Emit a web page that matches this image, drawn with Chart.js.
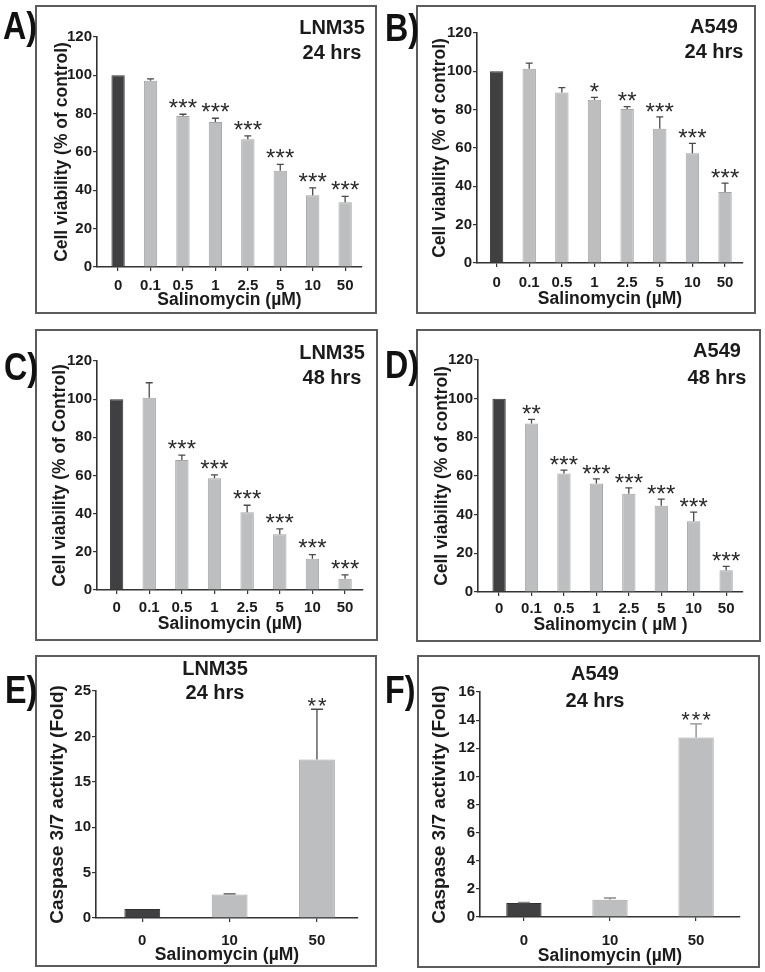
<!DOCTYPE html>
<html><head><meta charset="utf-8">
<script src="https://cdn.jsdelivr.net/npm/chart.js@4/dist/chart.umd.min.js"></script>
<style>
html,body{margin:0;padding:0;background:#fff;}
body{width:765px;height:972px;position:relative;overflow:hidden;font-family:"Liberation Sans",Arial,sans-serif;color:#1b1b1b;}
.box{position:absolute;border:2px solid #5c5c5c;box-sizing:border-box;background:#fff;}
.box canvas{position:absolute;left:0;top:0;}
.letter{position:absolute;font-weight:bold;font-size:38px;line-height:38px;color:#111;transform-origin:left top;transform:scaleX(0.85);white-space:nowrap;}
.ttl{position:absolute;font-weight:bold;font-size:20px;line-height:20px;color:#1b1b1b;transform:translateX(-50%);white-space:nowrap;}
</style></head><body>
<script>
// ---------------- data ----------------
const doseLabels = ['0', '0.1', '0.5', '1', '2.5', '5', '10', '50'];
const caspLabels = ['0', '10', '50'];

const lnm35_24h     = [100, 97.2, 78.8, 75.7, 66.6, 50.2, 37.5, 33.8];
const lnm35_24h_err = [0, 1.0, 0.9, 1.9, 1.8, 3.3, 3.8, 3.0];
const lnm35_24h_sig = ['', '', '***', '***', '***', '***', '***', '***'];

const a549_24h      = [100, 101.4, 88.9, 85.2, 80.3, 70.1, 57.2, 37.0];
const a549_24h_err  = [0, 2.9, 2.6, 1.2, 1.3, 6.1, 5.2, 4.7];
const a549_24h_sig  = ['', '', '', '*', '**', '***', '***', '***'];

const lnm35_48h     = [100, 100.8, 68.1, 58.5, 40.7, 29.2, 16.4, 5.9];
const lnm35_48h_err = [0, 7.8, 2.6, 1.8, 3.7, 2.8, 2.1, 2.0];
const lnm35_48h_sig = ['', '', '***', '***', '***', '***', '***', '***'];

const a549_48h      = [100, 87.2, 61.3, 56.1, 50.8, 44.6, 36.6, 11.2];
const a549_48h_err  = [0, 2.1, 1.7, 2.4, 3.1, 3.4, 4.7, 2.1];
const a549_48h_sig  = ['', '**', '***', '***', '***', '***', '***', '***'];

const casp_lnm35     = [1.0, 2.6, 17.46];
const casp_lnm35_err = [0, 0.05, 5.53];
const casp_lnm35_sig = ['', '', '**'];

const casp_a549      = [1.0, 1.23, 12.77];
const casp_a549_err  = [0.03, 0.12, 0.97];
const casp_a549_sig  = ['', '', '***'];

const viabTicks = {max: 120, step: 20};
const caspTicksE = {max: 25, step: 5};
const caspTicksF = {max: 16, step: 2};

// ---------------- layout / style ----------------
Chart.defaults.font.family = '"Liberation Sans", Arial, sans-serif';
Chart.defaults.color = '#1b1b1b';
const DARK = '#404042', LIGHT = '#bdbec0';
const DARK_B = '#303032', LIGHT_B = '#a4a5a7';
const AXIS = '#333333';
const XT_SIZE = 17.5;

const panels = [
  {letter:'A)', lx:3,   lb:39,  t1:'LNM35', t2:'24 hrs', tcx:332, ty1:27,  ty2:52,
   box:[35,5,377,314],  area:[97,37,362,267],  xr:[-0.65,7.52], yTitleX:62,  xTitleY:300, digitTop:280,
   labels:doseLabels, vals:lnm35_24h, errs:lnm35_24h_err, sig:lnm35_24h_sig, yt:viabTicks,
   yTitle:'Cell viability (% of control)', xTitle:'Salinomycin (µM)', ySize:17.5, cap:3.5, gap:12, star:24, sp:9.5, ecol:'#4a4a4a'},
  {letter:'B)', lx:385, lb:41,  t1:'A549', t2:'24 hrs', tcx:714, ty1:26,  ty2:51,
   box:[416,5,756,314], area:[477,33,743,263], xr:[-0.6,7.55], yTitleX:440, xTitleY:299, digitTop:277,
   labels:doseLabels, vals:a549_24h, errs:a549_24h_err, sig:a549_24h_sig, yt:viabTicks,
   yTitle:'Cell viability (% of control)', xTitle:'Salinomycin (µM)', ySize:17.5, cap:3.5, gap:11, star:24, sp:9.5, ecol:'#4a4a4a'},
  {letter:'C)', lx:4,   lb:380, t1:'LNM35', t2:'48 hrs', tcx:332, ty1:352, ty2:377,
   box:[35,329,378,641], area:[97,361,363,590], xr:[-0.6,7.55], yTitleX:60, xTitleY:624, digitTop:602,
   labels:doseLabels, vals:lnm35_48h, errs:lnm35_48h_err, sig:lnm35_48h_sig, yt:viabTicks,
   yTitle:'Cell viability (% of Control)', xTitle:'Salinomycin (µM)', ySize:17.5, cap:3.5, gap:12, star:24, sp:9.5, ecol:'#4a4a4a'},
  {letter:'D)', lx:385, lb:378, t1:'A549', t2:'48 hrs', tcx:717, ty1:350, ty2:377,
   box:[416,329,761,642], area:[478,360,743,592], xr:[-0.65,7.52], yTitleX:442, xTitleY:625, digitTop:603,
   labels:doseLabels, vals:a549_48h, errs:a549_48h_err, sig:a549_48h_sig, yt:viabTicks,
   yTitle:'Cell viability (% of control)', xTitle:'Salinomycin ( µM )', ySize:17.5, cap:3.5, gap:11, star:24, sp:9.5, ecol:'#4a4a4a'},
  {letter:'E)', lx:5,   lb:703, t1:'LNM35', t2:'24 hrs', tcx:215, ty1:668, ty2:692,
   box:[35,655,377,967], area:[96,691,358,918], xr:[-0.53,2.47], yTitleX:58, xTitleY:955, digitTop:935,
   labels:caspLabels, vals:casp_lnm35, errs:casp_lnm35_err, sig:casp_lnm35_sig, yt:caspTicksE,
   yTitle:'Caspase 3/7 activity (Fold)', xTitle:'Salinomycin (µM)', ySize:19, cap:6, gap:9, star:22, sp:10.5, ecol:'#4a4a4a'},
  {letter:'F)', lx:385, lb:703, t1:'A549', t2:'24 hrs', tcx:595, ty1:673, ty2:700,
   box:[417,655,760,968], area:[480,692,740,917], xr:[-0.51,2.51], yTitleX:440, xTitleY:956, digitTop:935,
   labels:caspLabels, vals:casp_a549, errs:casp_a549_err, sig:casp_a549_sig, yt:caspTicksF,
   yTitle:'Caspase 3/7 activity (Fold)', xTitle:'Salinomycin (µM)', ySize:19, cap:6, gap:9, star:22, sp:10.5, ecol:'#8a8a8a'}
];

function errPlugin(p) {
  return {
    id: 'errbars',
    afterDatasetsDraw(chart) {
      const ctx = chart.ctx;
      const ds = chart.data.datasets[0];
      const meta = chart.getDatasetMeta(0);
      const ys = chart.scales.y;
      meta.data.forEach((bar, i) => {
        const v = ds.data[i].y, e = ds.errors[i];
        const yTop = ys.getPixelForValue(v + e);
        if (e > 0) {
          ctx.save();
          ctx.strokeStyle = p.ecol; ctx.lineWidth = 1.3;
          ctx.beginPath();
          ctx.moveTo(bar.x, bar.y); ctx.lineTo(bar.x, yTop);
          ctx.moveTo(bar.x - p.cap, yTop); ctx.lineTo(bar.x + p.cap, yTop);
          ctx.stroke();
          ctx.restore();
        }
        const s = ds.sig[i];
        if (s) {
          ctx.save();
          ctx.fillStyle = '#2a2a2a';
          ctx.font = 'normal ' + p.star + 'px "Liberation Sans", Arial, sans-serif';
          ctx.textAlign = 'center'; ctx.textBaseline = 'alphabetic';
          const n = s.length;
          const by = yTop - p.gap + 0.575 * p.star;
          for (let k = 0; k < n; k++) {
            ctx.fillText('*', bar.x + (k - (n - 1) / 2) * p.sp, by);
          }
          ctx.restore();
        }
      });
    }
  };
}

panels.forEach(p => {
  const bw = p.box[2] - p.box[0], bh = p.box[3] - p.box[1];
  const div = document.createElement('div');
  div.className = 'box';
  div.style.left = p.box[0] + 'px'; div.style.top = p.box[1] + 'px';
  div.style.width = bw + 'px'; div.style.height = bh + 'px';
  document.body.appendChild(div);
  const W = bw - 4, H = bh - 4;
  const ox = p.box[0] + 2, oy = p.box[1] + 2;
  const L = p.area[0] - ox, T = p.area[1] - oy, R = p.area[2] - ox, B = p.area[3] - oy;
  const cv = document.createElement('canvas');
  cv.width = W; cv.height = H;
  cv.style.width = W + 'px'; cv.style.height = H + 'px';
  div.appendChild(cv);

  const lt = document.createElement('div');
  lt.className = 'letter'; lt.textContent = p.letter;
  lt.style.left = p.lx + 'px'; lt.style.top = (p.lb - 32.2) + 'px';
  document.body.appendChild(lt);
  [[p.t1, p.ty1], [p.t2, p.ty2]].forEach(([t, y]) => {
    const d = document.createElement('div');
    d.className = 'ttl'; d.textContent = t;
    d.style.left = p.tcx + 'px'; d.style.top = (y - 10) + 'px';
    document.body.appendChild(d);
  });

  const xTitleLH = XT_SIZE * 1.2;
  const xTitlePad = H - (p.xTitleY - oy) - xTitleLH / 2;
  const yTitleLH = p.ySize * 1.2;
  const yTitlePad = (p.yTitleX - ox) - yTitleLH / 2;
  const xTickPad = p.digitTop - p.area[3] - 4 - 2.8;

  new Chart(cv, {
    type: 'bar',
    data: {
      datasets: [{
        data: p.vals.map((v, i) => ({x: i, y: v})),
        errors: p.errs,
        sig: p.sig,
        backgroundColor: p.vals.map((v, i) => i === 0 ? DARK : LIGHT),
        borderColor: p.vals.map((v, i) => i === 0 ? DARK_B : LIGHT_B),
        borderWidth: 1,
        barPercentage: 0.41,
        categoryPercentage: 1
      }]
    },
    options: {
      responsive: false, animation: false, devicePixelRatio: 1,
      layout: {padding: {left: 0, top: T, right: W - R, bottom: 0}},
      plugins: {legend: {display: false}, tooltip: {enabled: false}, title: {display: false}},
      scales: {
        x: {
          type: 'linear', min: p.xr[0], max: p.xr[1], bounds: 'data', offset: false,
          afterBuildTicks: s => { s.ticks = p.labels.map((_, i) => ({value: i})); },
          afterFit: s => { s.height = H - B; },
          ticks: {autoSkip: false, maxRotation: 0, minRotation: 0, padding: xTickPad,
                  font: {size: 15, weight: 'bold'}, color: '#1b1b1b',
                  callback: v => p.labels[v]},
          grid: {drawOnChartArea: false, drawTicks: true, tickLength: 4, color: AXIS, lineWidth: 1.2, offset: false},
          border: {display: true, color: AXIS, width: 1.6},
          title: {display: true, text: p.xTitle, color: '#1b1b1b',
                  font: {size: XT_SIZE, weight: 'bold'}, padding: {top: 0, bottom: xTitlePad}}
        },
        y: {
          min: 0, max: p.yt.max,
          afterFit: s => { s.width = L; },
          ticks: {stepSize: p.yt.step, padding: 1, font: {size: 15, weight: 'bold'}, color: '#1b1b1b'},
          grid: {drawOnChartArea: false, drawTicks: true, tickLength: 4, color: AXIS, lineWidth: 1.2},
          border: {display: true, color: AXIS, width: 1.6},
          title: {display: true, text: p.yTitle, color: '#1b1b1b',
                  font: {size: p.ySize, weight: 'bold'}, padding: {top: yTitlePad, bottom: 0}}
        }
      }
    },
    plugins: [errPlugin(p)]
  });
});
</script>
</body></html>
